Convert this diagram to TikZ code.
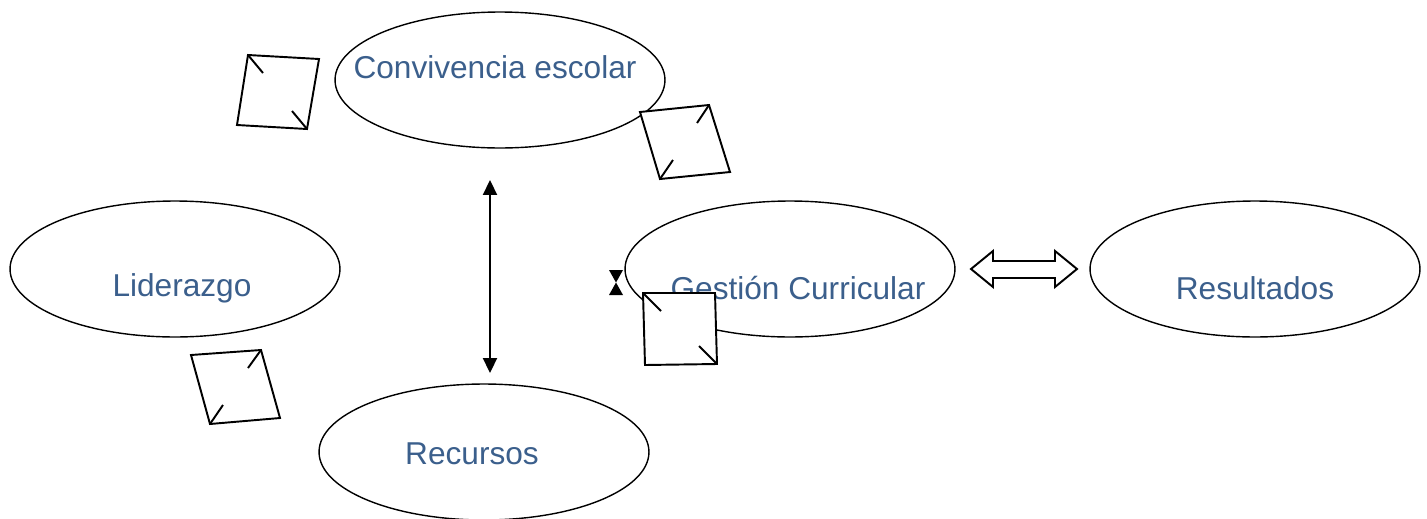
\documentclass[tikz,border=0pt]{standalone}
\usepackage{fontspec}
\setmainfont{Liberation Sans}
\usetikzlibrary{shapes.geometric,arrows.meta}
\definecolor{txtblue}{RGB}{59,95,140}
\begin{document}
\begin{tikzpicture}[x=0.02cm, y=-0.02cm,
  ell/.style={ellipse, draw, line width=0.8pt, minimum width=6.6cm, minimum height=2.72cm, inner sep=0pt},
  lbl/.style={text=txtblue, font=\fontsize{18}{21}\selectfont, inner sep=0pt},
  box/.style={draw, fill=white, line width=1.1pt},
  tick/.style={line width=1.1pt}]
\useasboundingbox (0,0) rectangle (1427,518);
\node[ell] (eid0) at (500,80){};
\node[ell] (eid1) at (175,269){};
\node[ell] (eid2) at (790,269){};
\node[ell] (eid3) at (1255,269){};
\node[ell] (eid4) at (484,452){};
\node[lbl] (tid0) at (495,67){Convivencia escolar};
\node[lbl] (tid1) at (182,288){Liderazgo};
\node[lbl] (tid2) at (798,288){Gestión Curricular};
\node[lbl] (tid3) at (1255,288){Resultados};
\node[lbl] (tid4) at (472,454){Recursos};

\draw[box] (248,55) -- (319,59) -- (307,129) -- (237,125) -- cycle;
\draw[tick] (248,55) -- (263,73);
\draw[tick] (307,129) -- (292,111);
\draw[box] (640,112) -- (709,105) -- (730,172) -- (660,179) -- cycle;
\draw[tick] (709,105) -- (697,123);
\draw[tick] (660,179) -- (673,160);
\draw[box] (191,355) -- (261,350) -- (280,418) -- (210,424) -- cycle;
\draw[tick] (261,350) -- (248,368);
\draw[tick] (210,424) -- (223,405);
\draw[box] (643,293) -- (715,293) -- (717,364) -- (645,365) -- cycle;
\draw[tick] (643,293) -- (661,311);
\draw[tick] (717,364) -- (699,346);

\fill (609,270) -- (623,270) -- (616,282.5) -- cycle;
\fill (609,295) -- (623,295) -- (616,282.5) -- cycle;

\coordinate (va0) at (490,180);
\coordinate (va1) at (490,373);
\draw[{Triangle[width=8pt,length=8.5pt]}-{Triangle[width=8pt,length=8.5pt]}, line width=1pt] (va0) -- (va1);

\draw[line width=1.1pt, line join=miter] (971,269) -- (993,251) -- (993,261) -- (1055,261) -- (1055,251) -- (1077,269) -- (1055,287) -- (1055,278) -- (993,278) -- (993,287) -- cycle;

\end{tikzpicture}
\end{document}
